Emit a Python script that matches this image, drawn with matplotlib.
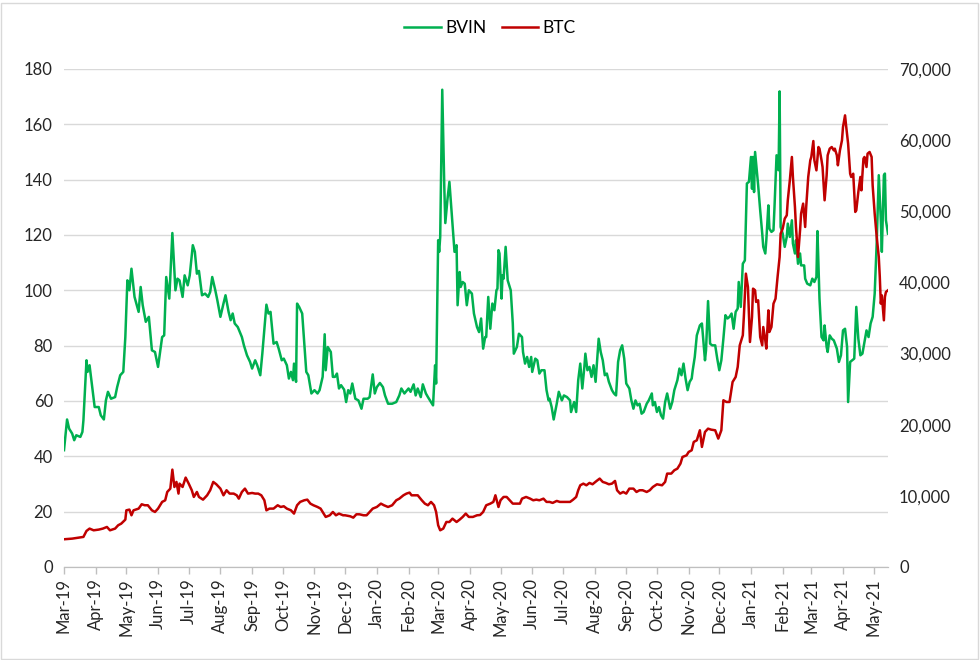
import pandas as pd
import matplotlib
matplotlib.use("Agg")
import matplotlib.pyplot as plt
import matplotlib.dates as mdates
from matplotlib.ticker import FuncFormatter, MultipleLocator
from matplotlib.patches import Rectangle

plt.rcParams["font.family"] = ["Lato", "DejaVu Sans"]

# x values are days since the first observation
start = pd.Timestamp("2019-03-12")
last_day = 806

# BVIN (left axis): (day, value)
bvin = [
    (0, 42.2), (3, 53.3), (5, 50), (8, 48.2), (10, 45.8), (12, 47.6), (16, 47), (18, 48.8),
    (19, 53), (22, 74.7), (23, 70.5), (25, 72.9), (28, 63.9), (30, 57.8), (34, 57.8),
    (36, 54.8), (39, 53.3), (41, 60.2), (43, 63.3), (46, 60.8), (50, 61.4), (52, 65),
    (55, 69.3), (58, 70.5), (60, 83.1), (62, 103.6), (64, 100), (66, 107.8), (69, 97.6),
    (73, 92.2), (75, 101.2), (77, 94.6), (80, 88.6), (83, 90.4), (86, 78.3), (89, 77.7),
    (92, 72.3), (96, 83.1), (98, 83.7), (100, 104.8), (103, 97), (106, 120.7), (109, 100),
    (111, 104.2), (113, 103.6), (116, 97.6), (118, 105.4), (121, 101.8), (123, 105.4),
    (126, 116.3), (128, 113.9), (130, 106), (132, 107), (135, 98.2), (138, 98.8),
    (141, 97.6), (143, 99.4), (145, 104.8), (148, 100), (150, 96.4), (153, 90.4),
    (156, 95.2), (158, 98.2), (161, 92.2), (163, 89.2), (165, 91.6), (167, 88), (170, 86.7),
    (174, 83.1), (176, 80.1), (179, 76.5), (182, 74.1), (184, 71.7), (187, 74.7),
    (189, 72.9), (192, 69.3), (194, 77.1), (198, 94.8), (200, 91.6), (202, 92.2),
    (205, 80.7), (208, 81.3), (210, 78.9), (213, 74.7), (215, 75.3), (218, 72.9),
    (220, 68.1), (222, 70.5), (224, 67.5), (225, 73.5), (227, 66.9), (228, 95.2), (230, 94),
    (233, 91.6), (237, 70.5), (239, 69.3), (242, 62.7), (245, 63.9), (248, 62.7),
    (250, 63.9), (253, 68.7), (255, 84.1), (256, 71.1), (258, 79.5), (261, 77.7),
    (263, 68.7), (265, 68.7), (267, 69.9), (269, 64.5), (271, 65.7), (274, 64.1),
    (276, 59.6), (278, 63.9), (280, 62.7), (282, 66.3), (285, 60.8), (288, 60.2),
    (291, 57.2), (293, 60.8), (297, 60.8), (299, 61.4), (302, 69.6), (304, 62.7), (306, 65),
    (309, 66.5), (312, 65), (314, 62), (317, 59), (321, 59), (325, 59.6), (328, 62),
    (330, 64.5), (333, 62.7), (337, 64.5), (339, 63.3), (342, 66), (344, 62), (346, 64.5),
    (349, 61.4), (351, 66), (354, 62.7), (356, 61.4), (359, 59.6), (361, 58.4), (363, 72.9),
    (364, 66.3), (366, 118.1), (367, 113.9), (368, 119.3), (370, 172.5), (372, 137.3),
    (373, 124.3), (375, 132.5), (377, 139.2), (379, 128.9), (382, 113.9), (384, 116.3),
    (385, 94.6), (387, 106.6), (388, 101.2), (390, 103), (392, 102.4), (394, 94.6),
    (396, 100), (399, 98.8), (401, 91.6), (404, 86.7), (406, 84.9), (408, 89.8), (410, 78.9),
    (412, 83.1), (413, 83.1), (415, 97.6), (417, 86.1), (419, 95.2), (421, 92.8), (423, 100),
    (424, 100.6), (425, 114.5), (426, 113.3), (428, 97), (429, 105.4), (430, 104.2),
    (432, 115.7), (434, 103.6), (437, 100), (439, 88), (440, 77.1), (443, 79.5), (445, 84.3),
    (448, 83.1), (449, 77.7), (451, 73.5), (453, 75.9), (455, 72.3), (457, 75.9), (458, 70.5),
    (461, 75.3), (463, 74.7), (465, 69.9), (467, 71.1), (470, 71.1), (472, 63.9), (474, 60.2),
    (475, 60.8), (477, 57.8), (479, 53.3), (482, 59), (484, 63.3), (487, 60.2), (489, 62),
    (492, 61.4), (495, 60.2), (496, 56), (499, 59.6), (501, 56), (503, 67.5), (505, 73.5),
    (507, 64.5), (509, 72.3), (510, 77.1), (512, 71.1), (514, 72.3), (516, 68.7), (518, 72.9),
    (520, 66.9), (523, 82.5), (525, 77.7), (527, 74.7), (529, 69.3), (531, 69.9), (533, 66.9),
    (536, 63.9), (538, 62.7), (540, 62), (542, 74.1), (544, 78.3), (546, 80.1), (548, 75.3),
    (550, 66.3), (553, 64.5), (555, 60.2), (557, 57.2), (559, 60.2), (561, 58.4), (563, 59),
    (565, 55.4), (567, 56), (570, 59), (572, 60.2), (575, 62.7), (576, 58.4), (578, 59.6),
    (580, 56), (582, 57.8), (584, 54.8), (586, 53.6), (588, 59.6), (590, 62.7), (593, 57.2),
    (595, 59.6), (597, 63.9), (600, 67.5), (602, 71.7), (604, 69.3), (606, 73.5), (608, 68.1),
    (610, 63.9), (612, 66.9), (614, 68.1), (615, 71.1), (617, 75.9), (619, 83.7), (622, 87.3),
    (624, 88), (627, 74.7), (628, 78.3), (630, 96.1), (632, 80.7), (634, 80.1), (637, 80.1),
    (639, 75.3), (641, 71.1), (643, 74.7), (645, 82.5), (647, 91), (649, 89.8), (651, 90.4),
    (653, 91.6), (655, 86.1), (657, 92.2), (659, 93.4), (660, 103), (662, 94), (664, 109.6),
    (666, 110.8), (667, 124.7), (668, 138.6), (670, 139.2), (672, 148.2), (673, 136.7),
    (674, 148.2), (675, 135.5), (676, 150), (679, 138), (681, 128.9), (683, 120.5),
    (684, 115.7), (686, 113.3), (687, 118.1), (689, 130.7), (690, 122.3), (692, 121.1),
    (694, 121.7), (695, 130.1), (697, 148.8), (699, 143.4), (700, 171.9), (701, 122.9),
    (703, 120.5), (705, 115.7), (707, 119.3), (708, 124.1), (710, 119.3), (712, 125.3),
    (713, 116.9), (715, 113.3), (716, 118.1), (718, 109.6), (720, 113.3), (721, 109),
    (724, 109), (725, 104.2), (727, 102.4), (730, 101.8), (732, 104.2), (734, 103),
    (736, 104.8), (737, 121.4), (739, 97), (741, 83.1), (743, 81.9), (744, 87.3), (746, 79.5),
    (747, 77.7), (749, 83.7), (751, 82.5), (753, 81.9), (756, 78.9), (758, 74.1), (760, 76.5),
    (762, 85.5), (764, 86.1), (766, 79.5), (767, 59.6), (769, 74.1), (771, 74.7), (773, 75.3),
    (775, 94), (777, 82.5), (779, 76.5), (781, 77.1), (783, 81.3), (785, 85.5), (787, 83.1),
    (789, 88), (791, 90.4), (793, 98.8), (795, 117.5), (797, 141.6), (799, 125.3),
    (800, 113.9), (802, 141.6), (803, 142.2), (804, 125.3), (806, 120.5),
]

# BTC (right axis, USD): (day, value)
btc = [
    (0, 3890), (8, 3980), (19, 4220), (22, 5060), (25, 5390), (29, 5150), (34, 5250),
    (38, 5390), (42, 5620), (45, 5150), (50, 5390), (53, 5860), (56, 6090), (60, 6650),
    (61, 7960), (64, 8060), (66, 7260), (68, 7960), (73, 8200), (76, 8810), (79, 8670),
    (82, 8670), (86, 7960), (89, 7730), (92, 8200), (96, 9140), (99, 9370), (101, 10540),
    (104, 11010), (106, 13680), (108, 11240), (110, 11950), (112, 10310), (113, 11710),
    (116, 11240), (119, 12560), (122, 11710), (125, 10780), (127, 9840), (130, 10540),
    (132, 9840), (136, 9460), (140, 10070), (143, 10780), (146, 11950), (149, 11620),
    (153, 11010), (156, 10070), (159, 10780), (162, 10310), (166, 10310), (169, 10070),
    (171, 9600), (174, 10540), (177, 11010), (180, 10310), (184, 10400), (187, 10310),
    (190, 10310), (193, 10070), (196, 9370), (198, 7960), (201, 8200), (205, 8200),
    (209, 8670), (212, 8430), (215, 8530), (218, 8200), (222, 7960), (225, 7500),
    (228, 8670), (231, 9140), (235, 9370), (238, 9460), (241, 8900), (244, 8670),
    (248, 8430), (251, 8200), (254, 7500), (256, 7030), (260, 7260), (263, 7730),
    (266, 7260), (269, 7500), (273, 7260), (275, 7260), (280, 7120), (283, 6930),
    (286, 7400), (289, 7400), (293, 7260), (296, 7260), (299, 7730), (302, 8200),
    (306, 8430), (310, 8900), (313, 8670), (317, 8430), (321, 8670), (325, 9370),
    (328, 9600), (332, 10070), (335, 10310), (338, 10450), (340, 10070), (343, 10070),
    (346, 10070), (350, 9370), (353, 8900), (356, 8670), (359, 9140), (362, 8670),
    (364, 7730), (366, 5860), (368, 5150), (371, 5390), (374, 6320), (377, 6320),
    (380, 6790), (384, 6320), (387, 6650), (390, 7030), (393, 7500), (396, 7030),
    (400, 7030), (404, 7260), (407, 7300), (410, 7730), (413, 8670), (417, 8900),
    (420, 9140), (422, 10070), (425, 8430), (427, 9370), (430, 9840), (433, 9840),
    (436, 9370), (439, 8900), (443, 8900), (446, 8900), (448, 9600), (452, 9840),
    (456, 9600), (459, 9370), (462, 9460), (465, 9370), (469, 9600), (472, 9140),
    (475, 9140), (478, 9000), (482, 9280), (485, 9140), (490, 9140), (495, 9140),
    (498, 9460), (501, 9840), (503, 10780), (505, 11480), (508, 11710), (511, 11480),
    (514, 11810), (517, 11620), (521, 12090), (524, 12420), (527, 11950), (530, 11810),
    (533, 11620), (536, 11710), (539, 12090), (541, 10780), (544, 10310), (547, 10540),
    (550, 10310), (553, 11010), (557, 11010), (560, 10540), (563, 10780), (566, 10780),
    (570, 10540), (573, 10780), (576, 11240), (580, 11620), (585, 11480), (588, 11950),
    (590, 13120), (594, 13120), (597, 13590), (600, 13820), (603, 14520), (605, 15460),
    (609, 15690), (611, 16160), (614, 16400), (616, 17570), (619, 17800), (622, 19210),
    (624, 16870), (627, 18970), (630, 19440), (633, 19300), (637, 19210), (640, 18040),
    (643, 19210), (645, 23430), (648, 23190), (651, 23190), (654, 26000), (657, 26700),
    (659, 28110), (661, 31150), (664, 32560), (665, 35140), (667, 41230), (669, 39350),
    (671, 31620), (673, 35140), (674, 39120), (676, 38890), (677, 37250), (679, 37480),
    (681, 32330), (683, 31150), (684, 33730), (686, 31860), (687, 30690), (689, 36070),
    (690, 33030), (692, 33730), (694, 37010), (696, 37710), (698, 40760), (700, 43570),
    (701, 46850), (703, 47550), (705, 48960), (707, 49430), (708, 51540), (710, 54350),
    (712, 57630), (713, 54820), (715, 50600), (716, 47790), (718, 43570), (720, 47320),
    (721, 49660), (723, 51070), (725, 47790), (726, 50600), (728, 54820), (730, 57160),
    (731, 57630), (733, 59870), (734, 57160), (736, 55750), (738, 59030), (739, 58800),
    (741, 57160), (742, 56220), (744, 51540), (746, 55050), (747, 57860), (749, 58800),
    (751, 59030), (753, 58560), (754, 58800), (756, 57860), (757, 56460), (759, 58560),
    (761, 59970), (762, 61840), (764, 63480), (765, 62080), (767, 59500), (769, 55280),
    (770, 54820), (772, 55280), (774, 49900), (775, 50130), (777, 52710), (779, 54820),
    (780, 52940), (782, 57390), (783, 57630), (785, 56220), (786, 58090), (788, 58330),
    (790, 57630), (791, 53640), (793, 49660), (795, 46380), (797, 43570), (798, 40760),
    (799, 37010), (800, 38180), (802, 34670), (803, 37950), (804, 38650), (806, 38890),
]


def to_dates(days):
    return start + pd.to_timedelta(list(days), unit="D")


bvin_day, bvin_value = zip(*bvin)
btc_day, btc_value = zip(*btc)

GREEN = "#00B050"
RED = "#C00000"
GRID = "#d9d9d9"
TEXT = "#262626"

fig = plt.figure(figsize=(9.8, 6.6), dpi=100)
ax = fig.add_axes([0.0653, 0.141, 0.8408, 0.7545])
ax2 = ax.twinx()

ax.plot(to_dates(bvin_day), bvin_value, color=GREEN, lw=1.8, label="BVIN")
ax2.plot(to_dates(btc_day), btc_value, color=RED, lw=1.8, label="BTC")

ax.set_xlim(start, start + pd.Timedelta(days=last_day))
ax.set_ylim(0, 180)
ax2.set_ylim(0, 70000)
ax.yaxis.set_major_locator(MultipleLocator(20))
ax2.yaxis.set_major_locator(MultipleLocator(10000))
ax2.yaxis.set_major_formatter(FuncFormatter(lambda v, p: f"{v:,.0f}"))

# monthly ticks counted from the first observation
ticks = pd.date_range(start, "2021-05-12", freq=pd.DateOffset(months=1))
ax.set_xticks(ticks)
ax.xaxis.set_major_formatter(mdates.DateFormatter("%b-%y"))
ax.tick_params(axis="x", rotation=90, labelsize=12, colors="#bfbfbf",
               labelcolor=TEXT, length=5, width=1, pad=3)
ax.tick_params(axis="y", length=0, labelsize=12, labelcolor=TEXT, pad=8)
ax2.tick_params(axis="y", length=0, labelsize=12, labelcolor=TEXT, pad=8)

ax.grid(axis="y", color=GRID, lw=1)
ax.set_axisbelow(True)
for a in (ax, ax2):
    for side in ("top", "left", "right"):
        a.spines[side].set_visible(False)
    a.spines["bottom"].set_color("#bfbfbf")

handles = ax.get_lines() + ax2.get_lines()
fig.legend(handles, [h.get_label() for h in handles], loc="center",
           bbox_to_anchor=(0.5, 0.957), ncol=2, frameon=False, fontsize=12.5,
           handlelength=2.1, columnspacing=0.9, handletextpad=0.25)

fig.patches.append(Rectangle((0.001, 0.002), 0.997, 0.994, transform=fig.transFigure,
                             fill=False, edgecolor=GRID, lw=1))

fig.savefig("out.png", dpi=100)
